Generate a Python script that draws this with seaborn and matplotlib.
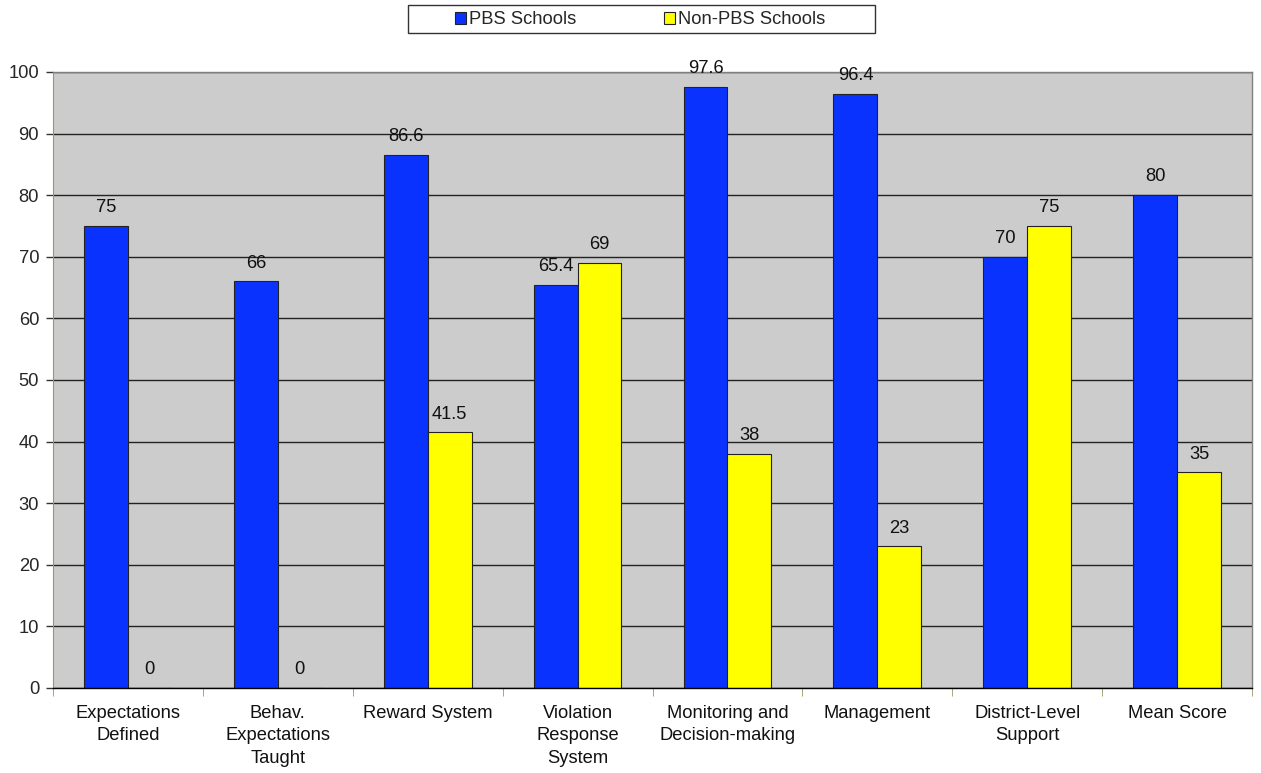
import matplotlib
matplotlib.use("Agg")
import matplotlib.pyplot as plt
import matplotlib.transforms as mtransforms
import seaborn as sns
import pandas as pd
from matplotlib.patches import Patch, Rectangle

categories = ["Expectations\nDefined", "Behav.\nExpectations\nTaught", "Reward System",
              "Violation\nResponse\nSystem", "Monitoring and\nDecision-making",
              "Management", "District-Level\nSupport", "Mean Score"]
pbs = [75, 66, 86.6, 65.4, 97.6, 96.4, 70, 80]
non_pbs = [0, 0, 41.5, 69, 38, 23, 75, 35]
series = ["PBS Schools", "Non-PBS Schools"]
colors = ["#0A32FF", "#FFFF00"]
yticks = list(range(0, 101, 10))

df = pd.DataFrame({
    "category": categories * 2,
    "value": pbs + non_pbs,
    "series": [series[0]] * len(categories) + [series[1]] * len(categories),
})

sns.set_style("white")
plt.rcParams['font.family'] = ['Liberation Sans', 'DejaVu Sans']
FS = 13.2

fig = plt.figure(figsize=(12.61, 7.73), dpi=100)
ax = fig.add_axes([53/1261, 1 - 688/773, (1252-53)/1261, (688-72)/773])
ax.set_facecolor("#CCCCCC")
ax.set_axisbelow(True)
ax.yaxis.grid(True, color="#222222", linewidth=1)

sns.barplot(data=df, x="category", y="value", hue="series", palette=colors,
            width=0.585, edgecolor="#222222", linewidth=0.8, ax=ax, legend=False,
            saturation=1)

for container in ax.containers:
    labels = [("%g" % v) for v in container.datavalues]
    ax.bar_label(container, labels=labels, padding=7, fontsize=FS, color="#111111")

ax.set_xlim(-0.5, len(categories) - 0.5)
ax.set_ylim(0, 100)
ax.set_yticks(yticks)
ax.set_yticklabels([str(t) for t in yticks], fontsize=FS)
ax.set_xlabel("")
ax.set_ylabel("")
ax.tick_params(axis="x", which="major", length=0, labelbottom=False)
# category labels with wider line spacing
trans = mtransforms.blended_transform_factory(ax.transData, ax.transAxes)
for i, cat in enumerate(categories):
    ax.text(i, -17/616, cat, transform=trans, ha="center", va="top",
            fontsize=FS, linespacing=1.42, color="#111111")
ax.tick_params(axis="y", length=5, width=1, direction="out", left=True, pad=5, color="#333333")
# category boundary ticks
ax.set_xticks([i - 0.5 for i in range(len(categories) + 1)], minor=True)
ax.tick_params(axis="x", which="minor", length=6, direction="out", bottom=True, color="#999966")

for s in ["top", "right"]:
    ax.spines[s].set_color("#808080")
    ax.spines[s].set_linewidth(1)
ax.spines["left"].set_color("#999966")
ax.spines["bottom"].set_color("#000000")
ax.spines["bottom"].set_linewidth(1)

handles = [Patch(facecolor=c, edgecolor="#222222", linewidth=0.8, label=s) for c, s in zip(colors, series)]
leg = fig.legend(handles=handles, loc="lower left",
                 bbox_to_anchor=(450/1261, 1 - 33/773, (830-450)/1261, 29/773), mode="expand",
                 ncol=2, frameon=False, fontsize=FS,
                 handlelength=0.6, handleheight=0.6, handletextpad=0.2, columnspacing=6,
                 borderpad=0.25, borderaxespad=0)
fig.patches.append(Rectangle((408/1261, 1 - 33/773), 467/1261, 28/773,
                             transform=fig.transFigure, fill=False,
                             edgecolor="#333333", linewidth=1))

fig.savefig("out.png", dpi=100, facecolor="white")
